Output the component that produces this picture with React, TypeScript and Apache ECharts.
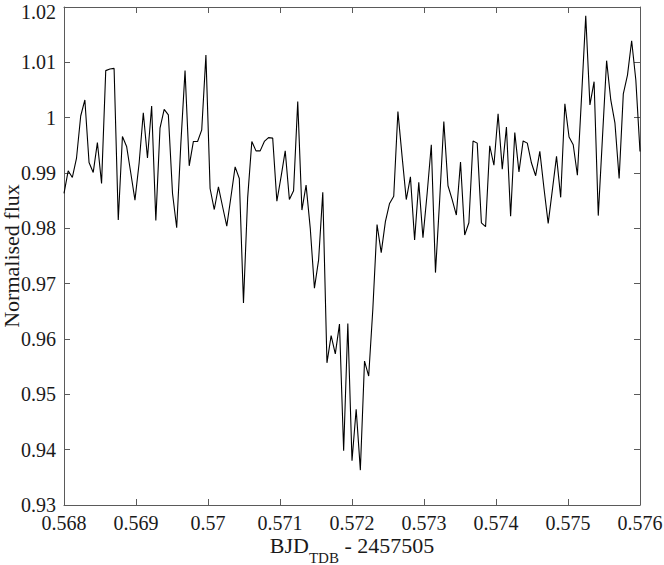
import React, { useEffect, useRef } from "react";
import * as echarts from "echarts";

// Time axis: first sample and uniform cadence (days)
const T_START = 0.568;
const CADENCE = 0.008 / 138;

// Normalised flux values, one per sample
const flux: number[] = [
  0.9863, 0.9904, 0.9892, 0.9927, 1.0003, 1.0032, 0.9919, 0.9901, 0.9955, 0.9881,
  1.0085, 1.0088, 1.0089, 0.9815, 0.9966, 0.9948, 0.99, 0.9851, 0.9918, 1.0009,
  0.9927, 1.0021, 0.9814, 0.9981, 1.0015, 1.0005, 0.9863, 0.9801, 0.9954, 1.0085,
  0.9913, 0.9957, 0.9957, 0.9978, 1.0113, 0.9872, 0.9834, 0.9875, 0.9839, 0.9804,
  0.9857, 0.9911, 0.989, 0.9665, 0.9855, 0.9957, 0.994, 0.994, 0.9957, 0.9964,
  0.9963, 0.9849, 0.9893, 0.994, 0.9852, 0.9868, 1.0029, 0.9833, 0.9878, 0.98,
  0.9692, 0.9743, 0.9865, 0.9557, 0.9606, 0.9573, 0.9627, 0.9398, 0.9628, 0.938,
  0.9473, 0.9363, 0.956, 0.9533, 0.9655, 0.9807, 0.9756, 0.9812, 0.9845, 0.9858,
  1.0011, 0.993, 0.9852, 0.9893, 0.9779, 0.9883, 0.9783, 0.9863, 0.9951, 0.972,
  0.9851, 0.9993, 0.9877, 0.9852, 0.9824, 0.992, 0.9788, 0.981, 0.9958, 0.9954,
  0.981, 0.9803, 0.9949, 0.9914, 1.0007, 0.9907, 0.9983, 0.9822, 0.9973, 0.9902,
  0.9958, 0.9954, 0.9918, 0.9895, 0.9939, 0.9872, 0.9809, 0.9869, 0.993, 0.9856,
  1.0025, 0.9965, 0.9951, 0.9896, 1.0038, 1.0184, 1.0023, 1.0065, 0.9823, 0.9963,
  1.0103, 1.0032, 0.999, 0.989, 1.0043, 1.0077, 1.0139, 1.0068, 0.9939,
];

// Axis ranges / ticks
const X_MIN = 0.568;
const X_MAX = 0.576;
const X_STEP = 0.001;
const Y_MIN = 0.93;
const Y_MAX = 1.02;
const Y_STEP = 0.01;

const X_TITLE_MAIN = "BJD";
const X_TITLE_SUB = "TDB";
const X_TITLE_TAIL = " - 2457505";
const Y_TITLE = "Normalised flux";

const FONT = "Liberation Serif";
const AXIS_COLOR = "#5a5a5a";
const TEXT_COLOR = "#1a1a1a";

export default function App() {
  const ref = useRef<HTMLDivElement>(null);

  useEffect(() => {
    if (!ref.current) return;
    const chart = echarts.init(ref.current, undefined, { renderer: "svg" });
    const data = flux.map((f, i) => [T_START + i * CADENCE, f]);

    const axisLine = { show: true, onZero: false, lineStyle: { color: AXIS_COLOR, width: 1 } };
    const axisTick = { show: true, inside: true, length: 6, lineStyle: { color: AXIS_COLOR, width: 1 } };

    chart.setOption({
      animation: false,
      backgroundColor: "#ffffff",
      textStyle: { fontFamily: FONT },
      grid: { left: 64, right: 24, top: 7, bottom: 60, containLabel: false, outerBoundsMode: "none" },
      xAxis: [
        {
          type: "value",
          position: "bottom",
          min: X_MIN,
          max: X_MAX,
          interval: X_STEP,
          axisLine,
          axisTick,
          splitLine: { show: false },
          axisLabel: {
            margin: 8,
            fontFamily: FONT,
            fontSize: 20,
            lineHeight: 20,
            color: TEXT_COLOR,
            formatter: (v: number) => String(parseFloat(v.toFixed(3))),
          },
          name: `{a|${X_TITLE_MAIN}}{b|${X_TITLE_SUB}}{a|${X_TITLE_TAIL}}`,
          nameLocation: "middle",
          nameGap: 29,
          nameMoveOverlap: false,
          nameTextStyle: {
            fontFamily: FONT,
            color: TEXT_COLOR,
            rich: {
              a: { fontFamily: FONT, fontSize: 22, color: TEXT_COLOR, lineHeight: 22, verticalAlign: "top" },
              b: {
                fontFamily: FONT,
                fontSize: 15,
                color: TEXT_COLOR,
                lineHeight: 15,
                verticalAlign: "top",
                padding: [16, 0, 0, 0],
              },
            },
          },
        },
        {
          type: "value",
          position: "top",
          min: X_MIN,
          max: X_MAX,
          interval: X_STEP,
          axisLine,
          axisTick,
          axisLabel: { show: false },
          splitLine: { show: false },
        },
      ],
      yAxis: [
        {
          type: "value",
          position: "left",
          min: Y_MIN,
          max: Y_MAX,
          interval: Y_STEP,
          axisLine,
          axisTick,
          splitLine: { show: false },
          axisLabel: {
            margin: 8,
            fontFamily: FONT,
            fontSize: 20,
            color: TEXT_COLOR,
            formatter: (v: number) => {
              const s = String(parseFloat(v.toFixed(2)));
              return v >= Y_MAX - Y_STEP / 2 ? `{top|${s}}` : s;
            },
            rich: {
              top: {
                fontFamily: FONT,
                fontSize: 20,
                color: TEXT_COLOR,
                padding: [10, 0, 0, 0],
              },
            },
          },
          name: Y_TITLE,
          nameLocation: "middle",
          nameGap: 42,
          nameMoveOverlap: false,
          nameTextStyle: { fontFamily: FONT, fontSize: 22, color: TEXT_COLOR },
        },
        {
          type: "value",
          position: "right",
          min: Y_MIN,
          max: Y_MAX,
          interval: Y_STEP,
          axisLine,
          axisTick,
          axisLabel: { show: false },
          splitLine: { show: false },
        },
      ],
      series: [
        {
          type: "line",
          xAxisIndex: 0,
          yAxisIndex: 0,
          data,
          showSymbol: false,
          symbol: "none",
          lineStyle: { color: "#000000", width: 1.1 },
          silent: true,
        },
      ],
    });

    return () => chart.dispose();
  }, []);

  return (
    <div
      ref={ref}
      style={{ position: "fixed", left: 0, top: 0, width: 664, height: 565, background: "#fff" }}
    />
  );
}
